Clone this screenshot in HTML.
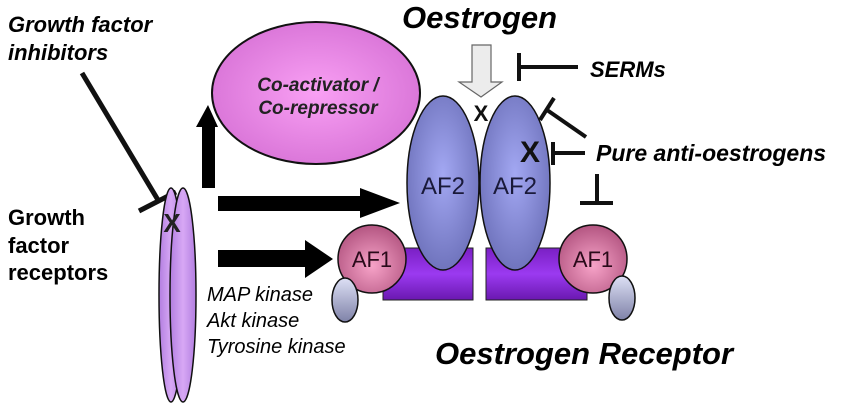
<!DOCTYPE html>
<html><head><meta charset="utf-8"><style>
html,body{margin:0;padding:0;background:#fff;}
svg{display:block;font-family:"Liberation Sans",Arial,sans-serif;}
</style></head><body>
<svg width="850" height="406" viewBox="0 0 850 406" xmlns="http://www.w3.org/2000/svg">
<defs>
<radialGradient id="pink" cx="50%" cy="50%" r="60%"><stop offset="0" stop-color="#f9a0f4"/><stop offset="1" stop-color="#d56fd4"/></radialGradient>
<radialGradient id="blue" cx="50%" cy="45%" r="60%"><stop offset="0" stop-color="#a3a8f3"/><stop offset="1" stop-color="#6b6fb8"/></radialGradient>
<radialGradient id="af1" cx="50%" cy="60%" r="60%"><stop offset="0" stop-color="#f7a3c8"/><stop offset="1" stop-color="#b35581"/></radialGradient>
<linearGradient id="rec" x1="0" x2="1"><stop offset="0" stop-color="#b27ee0"/><stop offset="0.5" stop-color="#d7a8f5"/><stop offset="1" stop-color="#b27ee0"/></linearGradient>
<linearGradient id="purp" x1="0" y1="0" x2="0" y2="1"><stop offset="0" stop-color="#7a1fc4"/><stop offset="0.5" stop-color="#9b3af0"/><stop offset="1" stop-color="#6a18b0"/></linearGradient>
<linearGradient id="small" x1="0" y1="0" x2="0" y2="1"><stop offset="0" stop-color="#dde0f5"/><stop offset="1" stop-color="#7f82a8"/></linearGradient>
</defs>

<text x="8" y="32" font-size="22" font-weight="bold" font-style="italic">Growth factor</text>
<text x="8" y="60" font-size="22" font-weight="bold" font-style="italic">inhibitors</text>
<text x="8" y="225" font-size="22" font-weight="bold">Growth</text>
<text x="8" y="253" font-size="22" font-weight="bold">factor</text>
<text x="8" y="280" font-size="22" font-weight="bold">receptors</text>

<line x1="82" y1="73" x2="158" y2="200" stroke="#111" stroke-width="5"/>
<line x1="139" y1="211" x2="176" y2="192" stroke="#111" stroke-width="5"/>

<ellipse cx="171" cy="295" rx="12" ry="107" fill="url(#rec)" stroke="#111" stroke-width="1.5"/>
<ellipse cx="183" cy="295" rx="13" ry="107" fill="url(#rec)" stroke="#111" stroke-width="1.5"/>
<text x="172" y="232" font-size="26" font-weight="bold" text-anchor="middle" fill="#222">X</text>

<ellipse cx="316" cy="93" rx="104" ry="71" fill="url(#pink)" stroke="#111" stroke-width="2"/>
<text x="318" y="91" font-size="19" font-weight="bold" font-style="italic" text-anchor="middle" fill="#222">Co-activator /</text>
<text x="318" y="114" font-size="19" font-weight="bold" font-style="italic" text-anchor="middle" fill="#222">Co-repressor</text>

<polygon points="202,188 215,188 215,127 218,127 208,105 196,127 202,127" fill="#000"/>
<polygon points="218,196 360,196 360,188 400,203 360,218 360,211 218,211" fill="#000"/>
<polygon points="218,250 305,250 305,240 333,259 305,278 305,267 218,267" fill="#000"/>

<rect x="383" y="248" width="90" height="52" fill="url(#purp)" stroke="#222" stroke-width="1"/>
<rect x="486" y="248" width="101" height="52" fill="url(#purp)" stroke="#222" stroke-width="1"/>

<ellipse cx="443" cy="183" rx="36" ry="87" fill="url(#blue)" stroke="#111" stroke-width="1.5"/>
<ellipse cx="515" cy="183" rx="35" ry="87" fill="url(#blue)" stroke="#111" stroke-width="1.5"/>
<text x="443" y="194" font-size="24" text-anchor="middle" fill="#1a1a3a">AF2</text>
<text x="515" y="194" font-size="24" text-anchor="middle" fill="#1a1a3a">AF2</text>

<circle cx="372" cy="259" r="34" fill="url(#af1)" stroke="#111" stroke-width="1.5"/>
<text x="372" y="267" font-size="22" text-anchor="middle" fill="#2a0a1a">AF1</text>
<circle cx="593" cy="259" r="34" fill="url(#af1)" stroke="#111" stroke-width="1.5"/>
<text x="593" y="267" font-size="22" text-anchor="middle" fill="#2a0a1a">AF1</text>

<ellipse cx="345" cy="300" rx="13" ry="22" fill="url(#small)" stroke="#111" stroke-width="1.5"/>
<ellipse cx="622" cy="298" rx="13" ry="22" fill="url(#small)" stroke="#111" stroke-width="1.5"/>

<text x="207" y="301" font-size="20" font-style="italic">MAP kinase</text>
<text x="207" y="327" font-size="20" font-style="italic">Akt kinase</text>
<text x="207" y="353" font-size="20" font-style="italic">Tyrosine kinase</text>

<text x="402" y="28" font-size="31" font-weight="bold" font-style="italic">Oestrogen</text>
<polygon points="472,45 491,45 491,82 502,82 481,97 459,82 472,82" fill="#ececec" stroke="#666" stroke-width="1.2"/>
<text x="481" y="121" font-size="22" font-weight="bold" text-anchor="middle" fill="#111">X</text>
<text x="530" y="162" font-size="30" font-weight="bold" text-anchor="middle" fill="#111">X</text>

<line x1="519" y1="53" x2="519" y2="81" stroke="#111" stroke-width="4"/>
<line x1="519" y1="67" x2="578" y2="67" stroke="#111" stroke-width="4"/>
<text x="590" y="77" font-size="22" font-weight="bold" font-style="italic">SERMs</text>

<line x1="586" y1="137" x2="547" y2="110" stroke="#111" stroke-width="4"/>
<line x1="540" y1="120" x2="554" y2="98" stroke="#111" stroke-width="4"/>
<line x1="553" y1="142" x2="553" y2="165" stroke="#111" stroke-width="4"/>
<line x1="553" y1="153" x2="585" y2="153" stroke="#111" stroke-width="4"/>
<text x="596" y="161" font-size="23" font-weight="bold" font-style="italic">Pure anti-oestrogens</text>
<line x1="597" y1="174" x2="597" y2="203" stroke="#111" stroke-width="4"/>
<line x1="580" y1="203" x2="613" y2="203" stroke="#111" stroke-width="4"/>

<text x="435" y="364" font-size="31" font-weight="bold" font-style="italic">Oestrogen Receptor</text>
</svg>
</body></html>
